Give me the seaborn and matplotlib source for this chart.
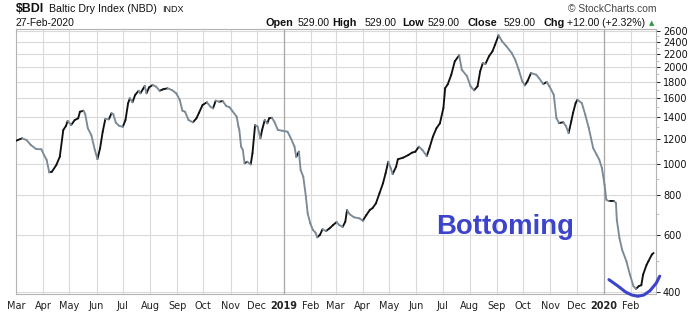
import matplotlib
matplotlib.use("Agg")
import matplotlib.pyplot as plt
import seaborn as sns
import pandas as pd
from matplotlib.ticker import FixedLocator, FixedFormatter, NullFormatter

# ---------------- data ----------------
dates = [
    "2018-03-01", "2018-03-08", "2018-03-13", "2018-03-18", "2018-03-24", "2018-03-30",
    "2018-04-02", "2018-04-05", "2018-04-08", "2018-04-11", "2018-04-16", "2018-04-20",
    "2018-04-24", "2018-04-27", "2018-04-29", "2018-05-03", "2018-05-07", "2018-05-11",
    "2018-05-13", "2018-05-17", "2018-05-19", "2018-05-22", "2018-05-26", "2018-05-30",
    "2018-06-02", "2018-06-05", "2018-06-08", "2018-06-11", "2018-06-15", "2018-06-18",
    "2018-06-20", "2018-06-23", "2018-06-27", "2018-07-01", "2018-07-04", "2018-07-07",
    "2018-07-09", "2018-07-12", "2018-07-15", "2018-07-19", "2018-07-21", "2018-07-24",
    "2018-07-26", "2018-07-28", "2018-07-31", "2018-08-04", "2018-08-08", "2018-08-12",
    "2018-08-16", "2018-08-21", "2018-08-26", "2018-08-31", "2018-09-04", "2018-09-07",
    "2018-09-10", "2018-09-14", "2018-09-19", "2018-09-23", "2018-09-26", "2018-09-30",
    "2018-10-05", "2018-10-09", "2018-10-12", "2018-10-15", "2018-10-19", "2018-10-23",
    "2018-10-27", "2018-10-31", "2018-11-03", "2018-11-08", "2018-11-10", "2018-11-11",
    "2018-11-13", "2018-11-15", "2018-11-17", "2018-11-20", "2018-11-24", "2018-11-26",
    "2018-11-29", "2018-12-02", "2018-12-05", "2018-12-07", "2018-12-10", "2018-12-13",
    "2018-12-15", "2018-12-18", "2018-12-21", "2018-12-25", "2018-12-30", "2019-01-05",
    "2019-01-08", "2019-01-13", "2019-01-15", "2019-01-18", "2019-01-20", "2019-01-23",
    "2019-01-26", "2019-01-28", "2019-01-31", "2019-02-03", "2019-02-06", "2019-02-08",
    "2019-02-11", "2019-02-14", "2019-02-18", "2019-02-22", "2019-02-26", "2019-03-02",
    "2019-03-05", "2019-03-09", "2019-03-12", "2019-03-14", "2019-03-17", "2019-03-22",
    "2019-03-28", "2019-04-01", "2019-04-05", "2019-04-09", "2019-04-12", "2019-04-16",
    "2019-04-20", "2019-04-24", "2019-04-27", "2019-04-30", "2019-05-03", "2019-05-05",
    "2019-05-09", "2019-05-11", "2019-05-17", "2019-05-23", "2019-05-27", "2019-05-31",
    "2019-06-04", "2019-06-08", "2019-06-13", "2019-06-16", "2019-06-20", "2019-06-24",
    "2019-06-28", "2019-07-02", "2019-07-04", "2019-07-07", "2019-07-11", "2019-07-15",
    "2019-07-20", "2019-07-23", "2019-07-29", "2019-08-02", "2019-08-06", "2019-08-10",
    "2019-08-13", "2019-08-16", "2019-08-19", "2019-08-23", "2019-08-27", "2019-08-30",
    "2019-09-03", "2019-09-07", "2019-09-12", "2019-09-18", "2019-09-22", "2019-09-26",
    "2019-09-30", "2019-10-03", "2019-10-06", "2019-10-10", "2019-10-16", "2019-10-19",
    "2019-10-24", "2019-10-28", "2019-10-31", "2019-11-05", "2019-11-08", "2019-11-11",
    "2019-11-16", "2019-11-19", "2019-11-22", "2019-11-25", "2019-11-27", "2019-11-30",
    "2019-12-02", "2019-12-07", "2019-12-11", "2019-12-15", "2019-12-20", "2019-12-24",
    "2019-12-27", "2019-12-30", "2020-01-02", "2020-01-04", "2020-01-07", "2020-01-13",
    "2020-01-15", "2020-01-16", "2020-01-19", "2020-01-22", "2020-01-27", "2020-01-31",
    "2020-02-04", "2020-02-07", "2020-02-10", "2020-02-13", "2020-02-15", "2020-02-19",
    "2020-02-21", "2020-02-25", "2020-02-27",
]
values = [
    1182, 1203, 1188, 1146, 1114, 1112,
    1067, 1030, 943, 947, 993, 1054,
    1277, 1314, 1362, 1323, 1371, 1388,
    1455, 1466, 1432, 1292, 1232, 1106,
    1037, 1120, 1261, 1381, 1378, 1439,
    1432, 1345, 1314, 1307, 1371, 1546,
    1602, 1557, 1640, 1691, 1660, 1712,
    1749, 1660, 1733, 1762, 1741, 1691,
    1709, 1721, 1700, 1660, 1582, 1466,
    1455, 1371, 1349, 1388, 1445, 1527,
    1557, 1508, 1491, 1575, 1563, 1571,
    1516, 1502, 1463, 1404, 1307, 1277,
    1133, 1106, 1006, 1017, 998, 1080,
    1323, 1307, 1203, 1277, 1371, 1339,
    1388, 1394, 1355, 1277, 1270, 1261,
    1217, 1133, 1054, 1093, 958, 914,
    792, 703, 654, 624, 612, 592,
    602, 627, 619, 631, 646, 660,
    646, 638, 662, 720, 698, 683,
    678, 667, 694, 720, 729, 755,
    811, 871, 936, 1017, 970, 931,
    981, 1035, 1047, 1067, 1085, 1093,
    1133, 1106, 1060, 1120, 1217, 1292,
    1339, 1494, 1722, 1772, 1897, 2088,
    2180, 1966, 1876, 1746, 1696, 1746,
    1944, 2063, 2048, 2164, 2243, 2352,
    2516, 2410, 2325, 2216, 2112, 1966,
    1810, 1758, 1810, 1920, 1897, 1853,
    1775, 1800, 1746, 1644, 1391, 1342,
    1349, 1311, 1249, 1359, 1442, 1549,
    1586, 1549, 1424, 1295, 1122, 1069,
    1032, 972, 863, 775, 766, 766,
    757, 671, 589, 542, 498, 453,
    417, 409, 417, 420, 453, 486,
    498, 523, 529,
]
y_ticks = [400, 600, 800, 1000, 1200, 1400, 1600, 1800, 2000, 2200, 2400, 2600]
y_minor = [500, 700, 900, 1100, 1300, 1500, 1700, 1900, 2100, 2300, 2500]
month_labels = ["Mar", "Apr", "May", "Jun", "Jul", "Aug", "Sep", "Oct", "Nov", "Dec",
                "2019", "Feb", "Mar", "Apr", "May", "Jun", "Jul", "Aug", "Sep", "Oct",
                "Nov", "Dec", "2020", "Feb"]
# hand-drawn "bottoming" annotation arc
arc_dates = ["2020-01-07", "2020-01-17", "2020-01-26", "2020-02-02", "2020-02-09",
             "2020-02-16", "2020-02-23", "2020-03-01", "2020-03-05"]
arc_values = [437, 418, 400, 391.5, 388, 391.5, 404, 426, 448]

# ---------------- figure ----------------
sns.set_theme(style="white")
plt.rcParams["font.family"] = ["DejaVu Sans"]

W, H = 700, 312
fig = plt.figure(figsize=(7.0, 3.12), dpi=100)
ax = fig.add_axes([16 / W, 1 - 294 / H, (656 - 16) / W, (294 - 29) / H])

d = pd.to_datetime(pd.Series(dates))
v = pd.Series(values, dtype=float)
rows = []
for i in range(len(v) - 1):
    direction = "up" if v[i + 1] >= v[i] else "down"
    rows.append((d[i], v[i], i, direction))
    rows.append((d[i + 1], v[i + 1], i, direction))
seg = pd.DataFrame(rows, columns=["date", "value", "seg", "dir"])

sns.lineplot(data=seg, x="date", y="value", hue="dir", units="seg", estimator=None,
             palette={"up": "#111111", "down": "#7b8a97"}, legend=False,
             linewidth=1.35, sort=False, ax=ax, solid_capstyle="round", zorder=3)

ax.set_yscale("log")
ax.set_ylim(394.3, 2632)
ax.set_xlim(pd.Timestamp("2018-03-01"), pd.Timestamp("2020-02-29 18:00"))

ax.yaxis.tick_right()
ax.yaxis.set_major_locator(FixedLocator(y_ticks))
ax.yaxis.set_major_formatter(FixedFormatter([str(t) for t in y_ticks]))
ax.yaxis.set_minor_locator(FixedLocator(y_minor))
ax.yaxis.set_minor_formatter(NullFormatter())

month_pos = pd.date_range("2018-03-01", "2020-02-01", freq="MS")
ax.set_xticks(month_pos)
ax.set_xticklabels(month_labels)
for lab in ax.get_xticklabels():
    if lab.get_text() in ("2019", "2020"):
        lab.set_fontweight("bold")
        lab.set_fontsize(8)

ax.tick_params(axis="x", length=0, pad=5, labelsize=7, colors="#222222")
ax.tick_params(axis="y", which="major", length=3, width=0.7, pad=2, labelsize=7,
               colors="#222222", direction="out")
ax.tick_params(axis="y", which="minor", length=2, width=0.6, color="#b8b8b8", direction="out")
for lab in ax.get_yticklabels():
    lab.set_color("#111111")

ax.grid(True, which="major", color="#dadada", linewidth=0.8)
ax.set_axisbelow(True)
for yr in ["2019-01-01", "2020-01-01"]:
    ax.axvline(pd.Timestamp(yr), color="#a8a8a8", linewidth=0.9, zorder=1)
for sp in ax.spines.values():
    sp.set_color("#b4b4b4")
    sp.set_linewidth(0.8)
ax.set_xlabel("")
ax.set_ylabel("")

# annotation arc + label
ax.plot(pd.to_datetime(pd.Series(arc_dates)), arc_values, color="#3d44cc",
        linewidth=2.2, solid_capstyle="round", clip_on=False, zorder=4)
ax.text(pd.Timestamp("2019-06-23"), 0, "", alpha=0)
fig.text(436 / W, 1 - 233.5 / H, "Bottoming", fontsize=19.8, fontweight="bold",
         family=["Liberation Sans", "DejaVu Sans"], color="#3d44cc", va="baseline", ha="left")

# ---------------- header ----------------
def ftext(x, y, s, size, weight="normal", color="#111111", ha="left"):
    fig.text(x / W, 1 - y / H, s, fontsize=size, fontweight=weight, color=color,
             family=["Liberation Sans", "DejaVu Sans"], va="baseline", ha=ha)

ftext(16, 12.5, "$BDI", 8.9, "bold")
ftext(49, 12.5, "Baltic Dry Index (NBD)", 7.7)
ftext(162, 12.5, "INDX", 6.5)
ftext(16, 26.5, "27-Feb-2020", 7.4)
ftext(656, 12.5, "\u00a9 StockCharts.com", 7.4, color="#444444", ha="right")
ftext(265, 26.5, "Open", 7.8, "bold")
ftext(298, 26.5, "529.00", 7.6)
ftext(332, 26.5, "High", 7.8, "bold")
ftext(365, 26.5, "529.00", 7.6)
ftext(402, 26.5, "Low", 7.8, "bold")
ftext(428, 26.5, "529.00", 7.6)
ftext(468, 26.5, "Close", 7.8, "bold")
ftext(504, 26.5, "529.00", 7.6)
ftext(543, 26.5, "Chg", 7.8, "bold")
ftext(567, 26.5, "+12.00 (+2.32%)", 7.6)
fig.text(649 / W, 1 - 25.5 / H, "\u25b2", fontsize=5, color="#2e9a3a", va="baseline",
         ha="left", family=["DejaVu Sans"])

fig.savefig("out.png", dpi=100)
